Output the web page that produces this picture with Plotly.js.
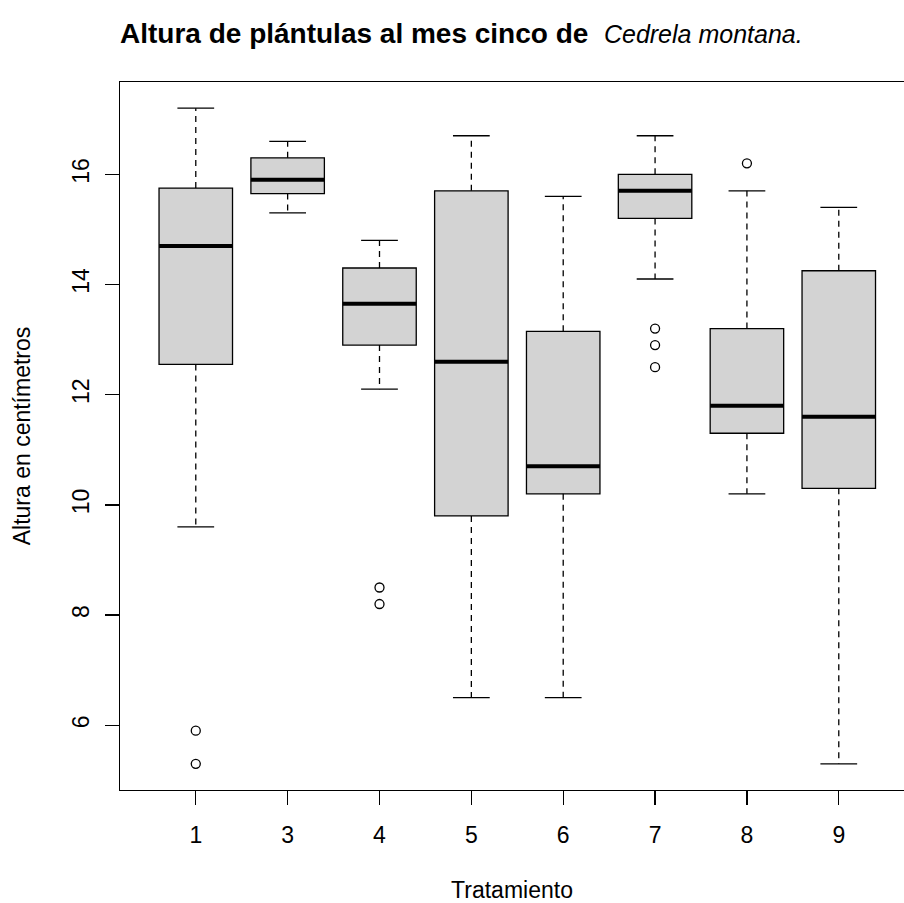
<!DOCTYPE html>
<html>
<head>
<meta charset="utf-8">
<script src="https://cdn.plot.ly/plotly-3.0.1.min.js"></script>
<style>html,body{margin:0;padding:0;background:#fff;}#chart{width:904px;height:903px;}</style>
</head>
<body>
<div id="chart"></div>
<script>
// Data
var categories   = ["1", "3", "4", "5", "6", "7", "8", "9"];
var lowerWhisker = [9.6, 15.3, 12.1, 6.5, 6.5, 14.1, 10.2, 5.3];
var q1           = [12.55, 15.65, 12.9, 9.8, 10.2, 15.2, 11.3, 10.3];
var median       = [14.7, 15.9, 13.65, 12.6, 10.7, 15.7, 11.8, 11.6];
var q3           = [15.75, 16.3, 14.3, 15.7, 13.15, 16.0, 13.2, 14.25];
var upperWhisker = [17.2, 16.6, 14.8, 16.7, 15.6, 16.7, 15.7, 15.4];
var outlierCat   = ["1", "1", "4", "4", "7", "7", "7", "8"];
var outlierVal   = [5.9, 5.3, 8.5, 8.2, 13.2, 12.9, 12.5, 16.2];
var yTicks       = [6, 8, 10, 12, 14, 16];

var FONT = "Liberation Sans, Arial, Helvetica, sans-serif";
var BOXW = 0.8, CAPW = 0.4;
var pos = categories.map(function (c, i) { return i + 1; });

var wx = [], wy = [], cx = [], cy = [], mx = [], my = [];
pos.forEach(function (p, i) {
  wx.push(p, p, null, p, p, null);
  wy.push(q3[i], upperWhisker[i], null, q1[i], lowerWhisker[i], null);
  cx.push(p - CAPW / 2, p + CAPW / 2, null, p - CAPW / 2, p + CAPW / 2, null);
  cy.push(upperWhisker[i], upperWhisker[i], null, lowerWhisker[i], lowerWhisker[i], null);
  mx.push(p - BOXW / 2, p + BOXW / 2, null);
  my.push(median[i], median[i], null);
});
var ox = outlierCat.map(function (c) { return categories.indexOf(c) + 1; });

var traces = [
  {type: "bar", x: pos, base: q1, y: q1.map(function (v, i) { return q3[i] - v; }),
   width: BOXW, marker: {color: "#d3d3d3", line: {color: "#000", width: 1.3}}, hoverinfo: "skip"},
  {type: "scatter", mode: "lines", x: wx, y: wy, line: {color: "#000", width: 1.3, dash: "6px,5px"}, hoverinfo: "skip"},
  {type: "scatter", mode: "lines", x: cx, y: cy, line: {color: "#000", width: 1.3}, hoverinfo: "skip"},
  {type: "scatter", mode: "lines", x: mx, y: my, line: {color: "#000", width: 4}, hoverinfo: "skip"},
  {type: "scatter", mode: "markers", x: ox, y: outlierVal,
   marker: {symbol: "circle-open", size: 9, color: "#000", line: {width: 1.3, color: "#000"}}, hoverinfo: "skip"}
];

var layout = {
  width: 904, height: 903,
  margin: {l: 120, r: 0, t: 82, b: 113},
  paper_bgcolor: "#fff", plot_bgcolor: "#fff",
  showlegend: false,
  font: {family: FONT, size: 23, color: "#000"},
  title: {
    text: "<b>Altura de plántulas al mes cinco de</b>  <span style='font-size:25px'><i>Cedrela montana.</i></span>",
    font: {family: FONT, size: 28, color: "#000"},
    xref: "container", yref: "container",
    x: 120 / 904, xanchor: "left",
    y: 1 - 33 / 903, yanchor: "middle"
  },
  xaxis: {
    range: [0.175, 8.71], showgrid: false, zeroline: false,
    tickmode: "array", tickvals: pos, ticktext: categories,
    ticks: "outside", ticklen: 14, tickwidth: 1.3, tickcolor: "#000",
    showline: true, linecolor: "#000", linewidth: 1.3, mirror: true,
    tickfont: {family: FONT, size: 23, color: "#000"},
    ticklabelstandoff: 10,
    title: {text: "Tratamiento", font: {family: FONT, size: 23, color: "#000"}, standoff: 36}
  },
  yaxis: {
    range: [4.824, 17.676], showgrid: false, zeroline: false,
    tickmode: "array", tickvals: yTicks, ticktext: yTicks.map(String),
    ticks: "outside", ticklen: 14, tickwidth: 1.3, tickcolor: "#000",
    showline: true, linecolor: "#000", linewidth: 1.3, mirror: false,
    tickangle: -90,
    tickfont: {family: FONT, size: 23, color: "#000"},
    ticklabelstandoff: 7,
    title: {text: "Altura en centímetros", font: {family: FONT, size: 23, color: "#000"}, standoff: 30}
  }
};

Plotly.newPlot("chart", traces, layout, {displayModeBar: false, staticPlot: true});
</script>
</body>
</html>
